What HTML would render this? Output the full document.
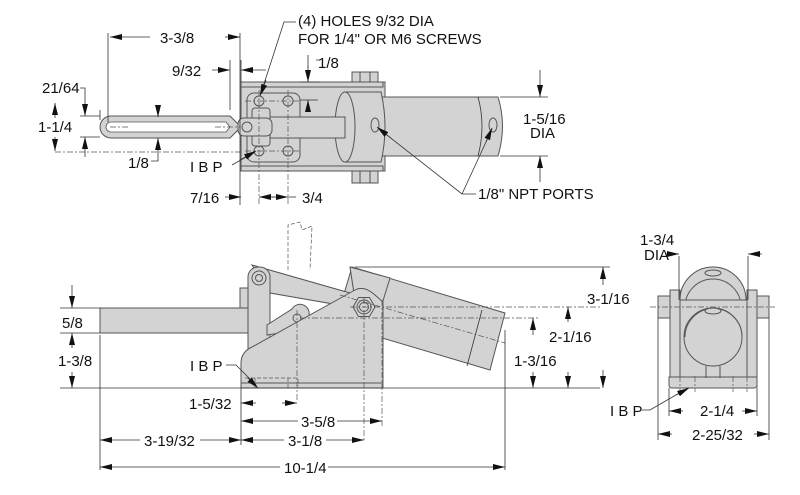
<!DOCTYPE html>
<html><head><meta charset="utf-8"><style>
html,body{margin:0;padding:0;background:#fff}
svg{display:block}
text{font-family:"Liberation Sans",sans-serif;font-size:15px;fill:#111}
.g{fill:#d3d3d3;stroke:#555;stroke-width:1}
.l{stroke:#333;stroke-width:0.8;fill:none}
.d{stroke:#555;stroke-width:0.7;fill:none;stroke-dasharray:6 2 2 2}
.h{stroke:#555;stroke-width:0.7;fill:none;stroke-dasharray:4 2}
</style></head><body>
<svg width="800" height="495" viewBox="0 0 800 495" xmlns="http://www.w3.org/2000/svg">
<defs>
<marker id="a" viewBox="0 0 12 6" refX="12" refY="3" markerWidth="12" markerHeight="6" orient="auto-start-reverse" markerUnits="userSpaceOnUse"><path d="M0,0 L12,3 L0,6z" fill="#111"/></marker>
</defs>

<!-- ===== TOP VIEW ===== -->
<rect class="g" x="241" y="82" width="144" height="89"/>
<rect class="g" x="241" y="82" width="142" height="5"/>
<rect class="g" x="241" y="166" width="142" height="5"/>
<rect class="g" x="247" y="93" width="53" height="69" rx="7"/>
<rect class="g" x="352" y="72" width="26" height="10"/>
<rect class="g" x="352" y="171" width="26" height="12"/>
<path class="l" d="M360,72v10M370,72v10M360,171v12M370,171v12"/>
<!-- cylinder tube -->
<path class="g" d="M382,97 H498 Q507,126 498,156 H382z"/>
<path class="l" d="M478,97 Q486,126 478,156"/>
<!-- head -->
<path class="g" d="M345,92 H381 Q389,127 381,162 H345z"/>
<ellipse class="g" cx="345" cy="127" rx="10" ry="35"/>
<!-- rod -->
<rect class="g" x="268" y="117" width="77" height="21"/>
<!-- clevis -->
<rect class="g" x="252" y="108" width="18" height="38" rx="3"/>
<rect class="g" x="238" y="118" width="34" height="18" rx="6"/>
<circle class="g" cx="247" cy="127" r="5"/>
<!-- holes -->
<circle class="g" cx="259" cy="101" r="5" fill="#fff"/>
<circle class="g" cx="288" cy="101" r="5" fill="#fff"/>
<circle class="g" cx="259" cy="151" r="5" fill="#fff"/>
<circle class="g" cx="288" cy="151" r="5" fill="#fff"/>
<!-- ports -->
<ellipse class="g" cx="375" cy="125" rx="4" ry="7" fill="#fff"/>
<ellipse class="g" cx="493" cy="125" rx="4" ry="7" fill="#fff"/>
<!-- handle loop -->
<path class="g" d="M111,116 H230 L238,124 V130 L230,138 H111 A11,11 0 0 1 111,116z"/>
<path d="M111,122 H226 L230,127 L226,132 H111 A5,5 0 0 1 111,122z" fill="#fff" stroke="#555" stroke-width="0.8"/>
<path class="d" d="M55,152 H241 M110,127 H130 M215,127 H240 M259,90 V205 M288,90 V205 M245,101 H300 M245,151 H300"/>
<!-- dims top -->
<path class="l" d="M108,33 V122 M240,33 V205 M241,60 V82 M230,60 V110 M100,110 V120"/>
<line class="l" x1="150" y1="37" x2="110" y2="37" marker-end="url(#a)"/>
<line class="l" x1="225" y1="37" x2="240" y2="37" marker-end="url(#a)"/>
<text x="160" y="43">3-3/8</text>
<line class="l" x1="212" y1="70" x2="230" y2="70" marker-end="url(#a)"/>
<line class="l" x1="266" y1="70" x2="241" y2="70" marker-end="url(#a)"/>
<text x="172" y="76">9/32</text>
<path class="l" d="M300,82 H320 M300,100 H318 M308,55 V68 M320,60 H316"/>
<line class="l" x1="308" y1="66" x2="308" y2="82" marker-end="url(#a)"/>
<line class="l" x1="308" y1="112" x2="308" y2="100" marker-end="url(#a)"/>
<text x="318" y="68">1/8</text>
<text x="42" y="93">21/64</text>
<path class="l" d="M80,88 H85 V100 M80,116 H100 M80,137 H100 M85,150 V157"/>
<line class="l" x1="85" y1="100" x2="85" y2="116" marker-end="url(#a)"/>
<line class="l" x1="85" y1="150" x2="85" y2="137" marker-end="url(#a)"/>
<line class="l" x1="55" y1="118" x2="55" y2="103" marker-end="url(#a)"/>
<line class="l" x1="55" y1="137" x2="55" y2="151" marker-end="url(#a)"/>
<text x="38" y="132">1-1/4</text>
<path class="l" d="M151,161 H158 V150 M158,107 V110"/>
<line class="l" x1="158" y1="106" x2="158" y2="117" marker-end="url(#a)"/>
<line class="l" x1="158" y1="150" x2="158" y2="138" marker-end="url(#a)"/>
<text x="128" y="168">1/8</text>
<text x="190" y="172">I B P</text>
<path class="l" d="M232,165 L255,152"/>
<line class="l" x1="240" y1="160" x2="256" y2="151" marker-end="url(#a)"/>
<text x="190" y="203">7/16</text>
<line class="l" x1="225" y1="197" x2="241" y2="197" marker-end="url(#a)"/>
<line class="l" x1="275" y1="197" x2="259" y2="197" marker-end="url(#a)"/>
<line class="l" x1="272" y1="197" x2="288" y2="197" marker-end="url(#a)"/>
<line class="l" x1="288" y1="197" x2="296" y2="197"/>
<text x="302" y="203">3/4</text>
<text x="298" y="26">(4) HOLES 9/32 DIA</text>
<text x="298" y="44">FOR 1/4" OR M6 SCREWS</text>
<path class="l" d="M296,22 H284 L262,90"/>
<line class="l" x1="266" y1="80" x2="260" y2="96" marker-end="url(#a)"/>
<path class="l" d="M500,97 H548 M500,156 H548 M540,70 V80 M540,172 V182"/>
<line class="l" x1="540" y1="80" x2="540" y2="97" marker-end="url(#a)"/>
<line class="l" x1="540" y1="172" x2="540" y2="156" marker-end="url(#a)"/>
<text x="523" y="124">1-5/16</text>
<text x="530" y="138">DIA</text>
<path class="l" d="M476,194 H462 L378,128 M462,194 L492,129"/>
<line class="l" x1="392" y1="139" x2="377" y2="127" marker-end="url(#a)"/>
<line class="l" x1="486" y1="142" x2="492" y2="128" marker-end="url(#a)"/>
<text x="478" y="199">1/8" NPT PORTS</text>

<!-- ===== SIDE VIEW ===== -->
<path class="h" d="M288,270 V225 L300,222 L302,230 L312,226 L310,270"/>
<!-- cylinder -->
<path class="g" d="M352,267 L505,313 L490,370 L335,324z"/>
<path class="l" d="M482,310 L467,366"/>
<!-- arm -->
<path class="g" d="M252,265 L350,293 L345,306 L270,293z"/>
<!-- handle bar -->
<rect class="g" x="100" y="308" width="150" height="25"/>
<rect class="g" x="240" y="288" width="8" height="20"/>
<!-- link -->
<rect class="g" x="248" y="267" width="22" height="100" rx="10"/>
<circle class="g" cx="259" cy="278" r="7"/>
<circle class="g" cx="259" cy="278" r="3.5"/>
<!-- sec link -->
<path class="g" d="M267,335 L267,325 L292,309 A9,9 0 0 1 308,318 L300,330z"/>
<circle class="g" cx="297" cy="318" r="4"/>
<!-- head block -->
<path class="g" d="M350,267 L390,278 L382,304 L355,300z"/>
<!-- body -->
<path class="g" d="M241,388 V363 Q241,352 252,347 L355,290 Q364,285 375,295 L383,302 V388z"/>
<rect class="g" x="241" y="383" width="142" height="5"/>
<polygon class="g" points="375,307 369.5,316.5 358.5,316.5 353,307 358.5,297.5 369.5,297.5"/>
<circle class="g" cx="364" cy="307" r="7"/>
<circle class="g" cx="364" cy="307" r="4.5"/>
<path class="h" d="M245,378 H298 V386 M255,378 V388 M288,378 V388"/>
<path class="d" d="M297,310 V400 M364,298 V440 M382,300 V426 M350,307 H600 M300,318 H540 M340,295 L505,343"/>
<!-- side dims -->
<path class="l" d="M60,308 H100 M60,333 H100 M60,388 H600 M355,267 H610 M100,335 V470 M241,388 V445 M505,330 V470"/>
<line class="l" x1="72" y1="285" x2="72" y2="308" marker-end="url(#a)"/>
<line class="l" x1="72" y1="348" x2="72" y2="333" marker-end="url(#a)"/>
<line class="l" x1="72" y1="372" x2="72" y2="388" marker-end="url(#a)"/>
<text x="62" y="328">5/8</text>
<text x="58" y="366">1-3/8</text>
<text x="190" y="371">I B P</text>
<path class="l" d="M226,365 L236,365 L256,385"/>
<line class="l" x1="248" y1="378" x2="258" y2="388" marker-end="url(#a)"/>
<line class="l" x1="603" y1="285" x2="603" y2="267" marker-end="url(#a)"/>
<line class="l" x1="603" y1="370" x2="603" y2="388" marker-end="url(#a)"/>
<text x="587" y="304">3-1/16</text>
<line class="l" x1="568" y1="322" x2="568" y2="307" marker-end="url(#a)"/>
<line class="l" x1="568" y1="372" x2="568" y2="388" marker-end="url(#a)"/>
<text x="549" y="342">2-1/16</text>
<line class="l" x1="533" y1="335" x2="533" y2="318" marker-end="url(#a)"/>
<line class="l" x1="533" y1="372" x2="533" y2="388" marker-end="url(#a)"/>
<text x="514" y="366">1-3/16</text>
<text x="189" y="409">1-5/32</text>
<line class="l" x1="256" y1="403" x2="241" y2="403" marker-end="url(#a)"/>
<line class="l" x1="282" y1="403" x2="297" y2="403" marker-end="url(#a)"/>
<text x="301" y="427">3-5/8</text>
<line class="l" x1="298" y1="421" x2="241" y2="421" marker-end="url(#a)"/>
<line class="l" x1="337" y1="421" x2="382" y2="421" marker-end="url(#a)"/>
<text x="144" y="446">3-19/32</text>
<line class="l" x1="140" y1="440" x2="100" y2="440" marker-end="url(#a)"/>
<line class="l" x1="200" y1="440" x2="241" y2="440" marker-end="url(#a)"/>
<text x="288" y="446">3-1/8</text>
<line class="l" x1="284" y1="440" x2="241" y2="440" marker-end="url(#a)"/>
<line class="l" x1="326" y1="440" x2="364" y2="440" marker-end="url(#a)"/>
<text x="284" y="473">10-1/4</text>
<line class="l" x1="280" y1="467" x2="100" y2="467" marker-end="url(#a)"/>
<line class="l" x1="328" y1="467" x2="505" y2="467" marker-end="url(#a)"/>

<!-- ===== END VIEW ===== -->
<rect class="g" x="670" y="290" width="10" height="97"/>
<rect class="g" x="747" y="290" width="10" height="97"/>
<rect class="g" x="658" y="296" width="12" height="22"/>
<rect class="g" x="757" y="296" width="12" height="22"/>
<circle class="g" cx="713" cy="300" r="33"/>
<circle class="g" cx="713" cy="307" r="28"/>
<rect class="g" x="680" y="300" width="67" height="80"/>
<circle class="g" cx="713" cy="337" r="29"/>
<path class="g" d="M685,337 A28,28 0 0 1 742,337"/>
<ellipse class="g" cx="713" cy="273" rx="8" ry="3"/>
<ellipse class="g" cx="713" cy="311" rx="8" ry="3"/>
<path class="g" d="M669,377 H757 V385 Q757,388 754,388 H672 Q669,388 669,385z"/>
<path class="g" d="M706,366 V378 M720,366 V378"/>
<path class="d" d="M650,307 H775 M680,376 V392 M695,376 V392 M733,376 V392 M747,376 V392"/>
<path class="l" d="M679,256 V300 M748,256 V300 M669,388 V416 M757,388 V416 M658,318 V440 M769,318 V440"/>
<text x="640" y="245">1-3/4</text>
<text x="644" y="260">DIA</text>
<line class="l" x1="665" y1="254" x2="679" y2="254" marker-end="url(#a)"/>
<line class="l" x1="762" y1="254" x2="748" y2="254" marker-end="url(#a)"/>
<text x="610" y="416">I B P</text>
<path class="l" d="M642,410 L650,410 L688,388"/>
<line class="l" x1="676" y1="395" x2="689" y2="388" marker-end="url(#a)"/>
<text x="700" y="416">2-1/4</text>
<line class="l" x1="683" y1="411" x2="669" y2="411" marker-end="url(#a)"/>
<line class="l" x1="742" y1="411" x2="757" y2="411" marker-end="url(#a)"/>
<text x="692" y="440">2-25/32</text>
<line class="l" x1="672" y1="434" x2="658" y2="434" marker-end="url(#a)"/>
<line class="l" x1="754" y1="434" x2="769" y2="434" marker-end="url(#a)"/>
</svg>
</body></html>
